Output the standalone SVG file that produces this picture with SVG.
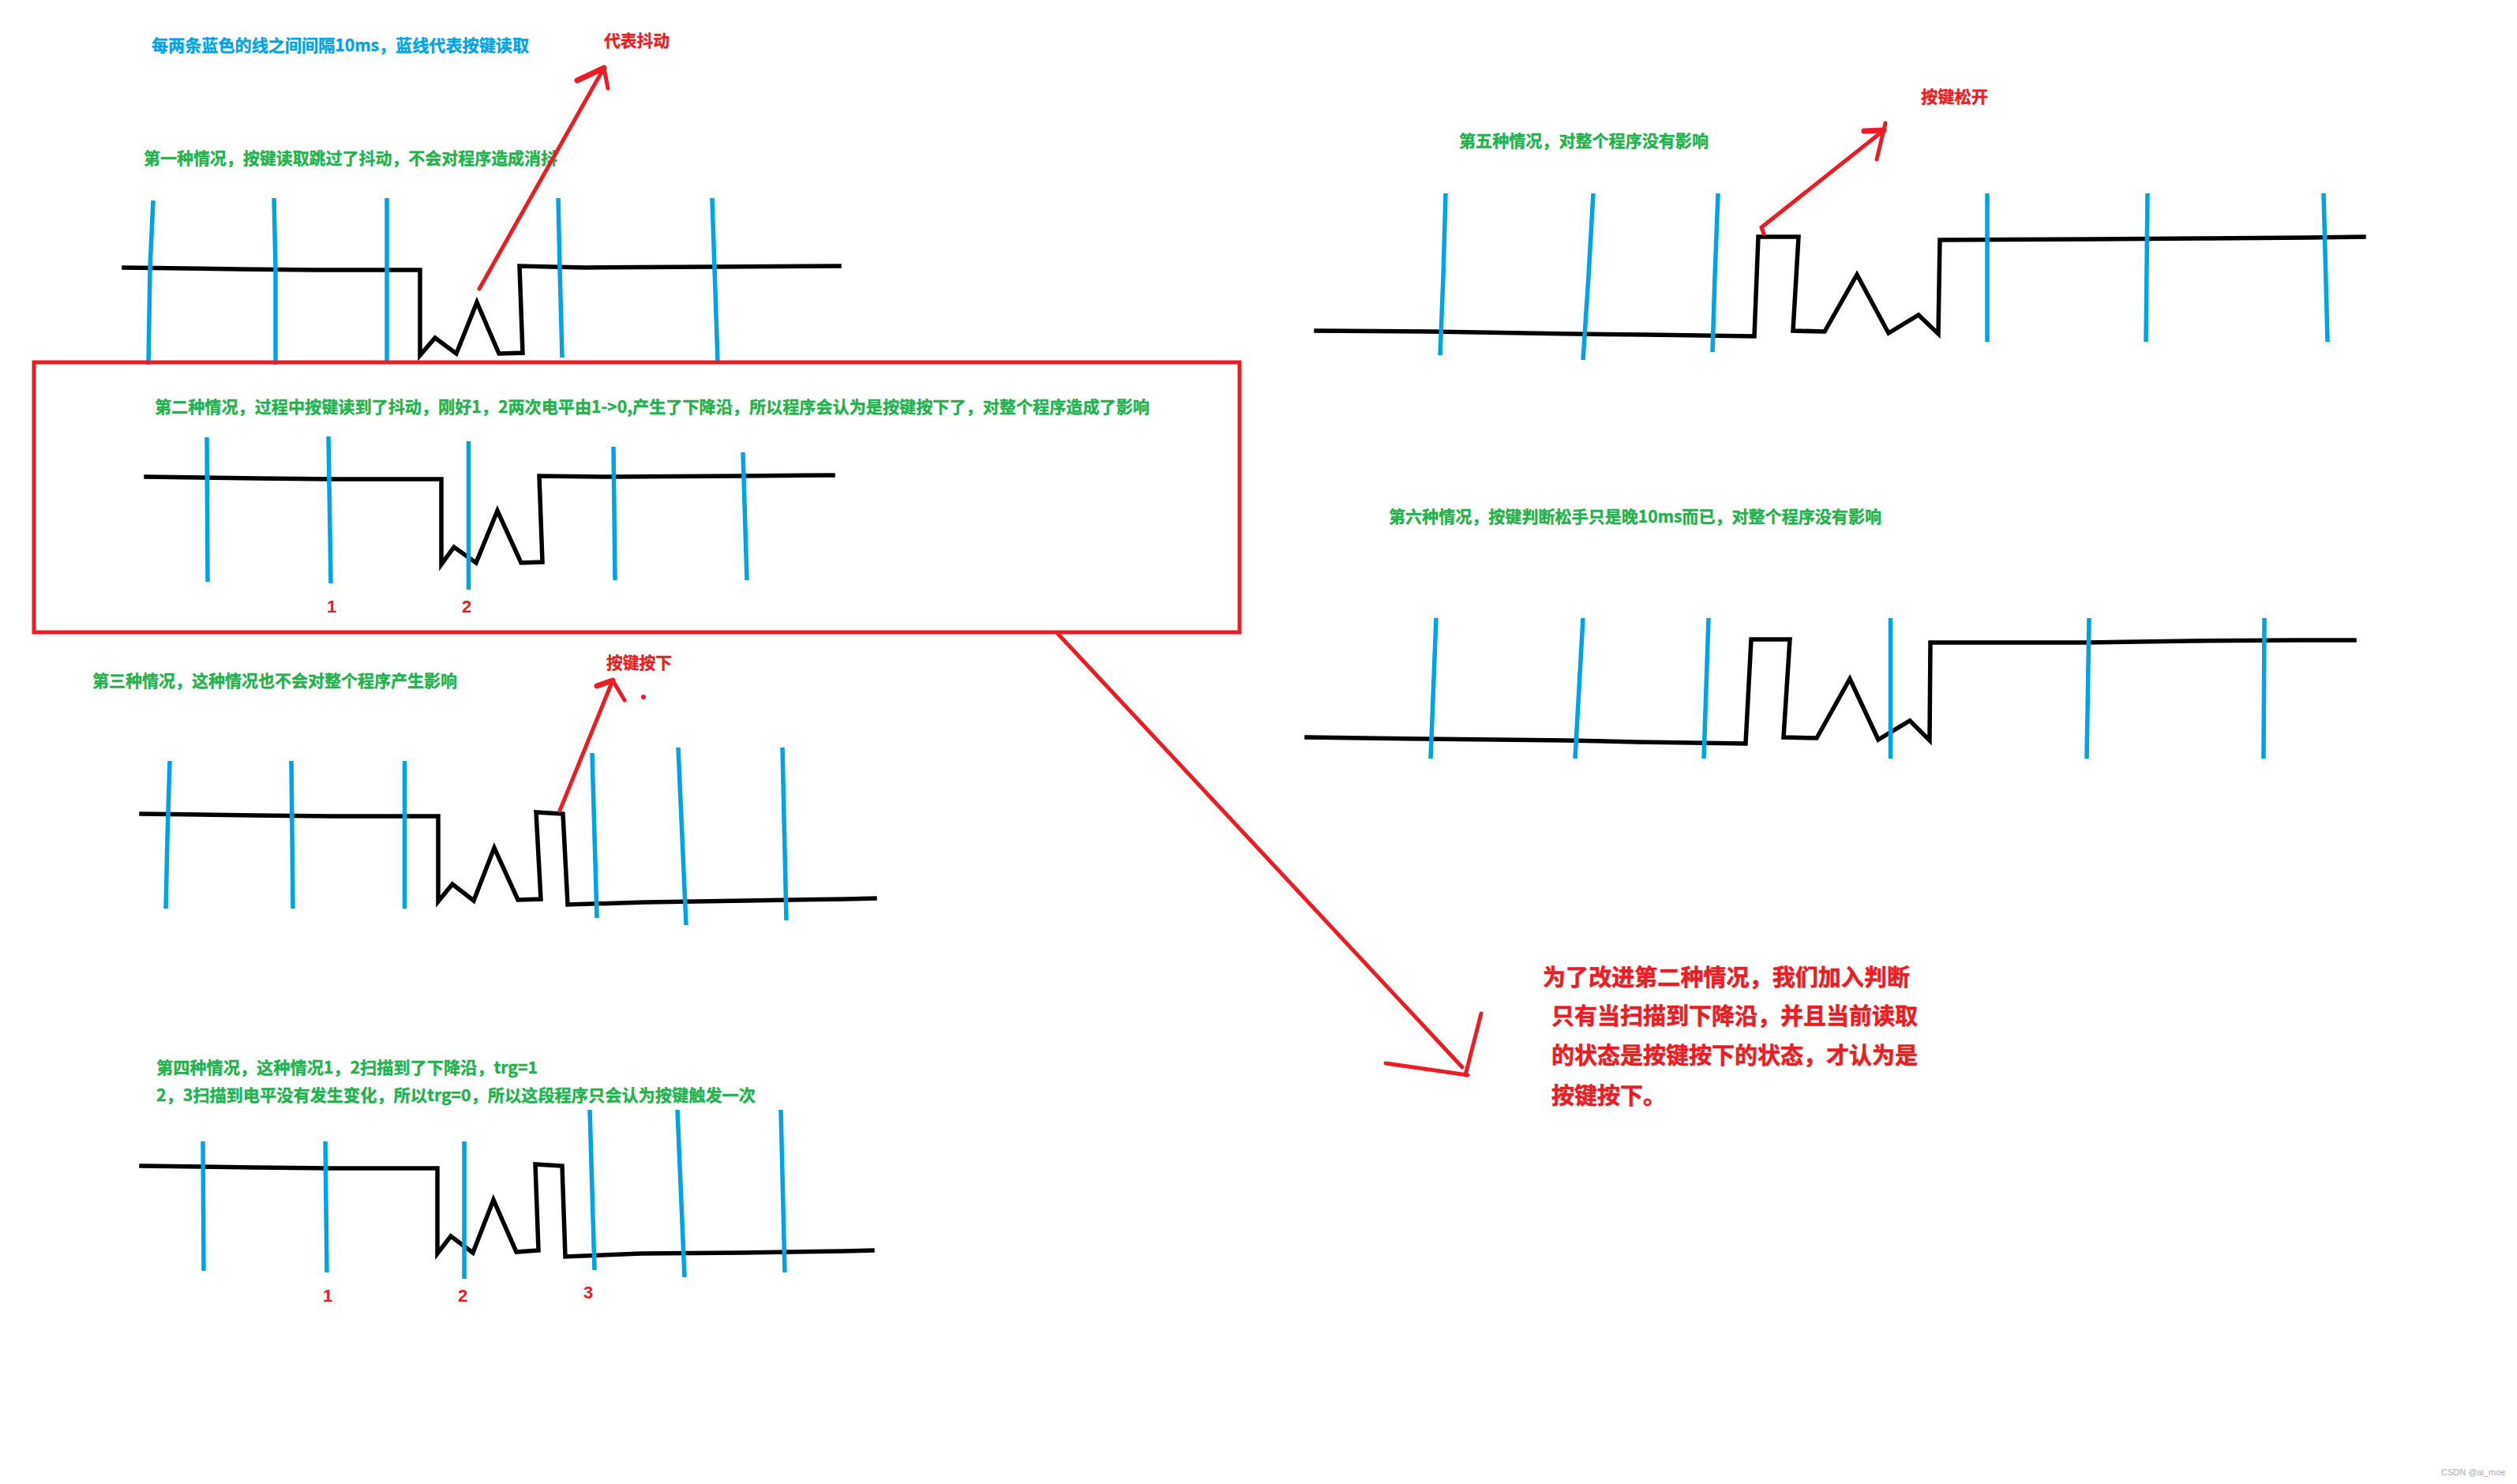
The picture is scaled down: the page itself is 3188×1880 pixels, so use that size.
<svg xmlns="http://www.w3.org/2000/svg" width="3188" height="1880" viewBox="0 0 3188 1880">
<style>
text{font-family:"Noto Sans CJK SC","Liberation Sans",sans-serif;font-weight:700}
.sig{fill:none;stroke:#000;stroke-width:5.5;stroke-linejoin:miter;stroke-linecap:square}
.scan{fill:none;stroke:#00A2E8;stroke-width:5.5}
.arr{fill:none;stroke:#ED1C24;stroke-width:5;stroke-linecap:round;stroke-linejoin:round}
.thick{stroke-width:7}
.g{fill:#22B14C;stroke:#22B14C;stroke-width:.4;font-size:21px}
.b{fill:#00A2E8;stroke:#00A2E8;stroke-width:.4;font-size:21px}
.r{fill:#ED1C24;stroke:#ED1C24;stroke-width:.4;font-size:21px}
.n{fill:#ED1C24;font-size:22px;text-anchor:middle;font-family:"Liberation Sans",sans-serif}
.big{fill:#ED1C24;stroke:#ED1C24;stroke-width:.6;font-size:29px}
.wm{fill:#aaa;font-size:11px;font-weight:400;font-family:"Liberation Sans",sans-serif}
</style>
<rect width="3188" height="1880" fill="#fff"/>

<g id="legend">
<text class="b" x="192" y="64.5" textLength="478" lengthAdjust="spacingAndGlyphs">每两条蓝色的线之间间隔10ms，蓝线代表按键读取</text>
</g>

<g id="case1">
<text class="g" x="182" y="207.5" textLength="524" lengthAdjust="spacingAndGlyphs">第一种情况，按键读取跳过了抖动，不会对程序造成消抖</text>
<polyline class="sig" points="157,339 304,341 400,342 532,342 532,450 551,428 578,448 604,383 632,448 662,447 658,337 741,339 902,338 1063,337"/>
<polyline class="scan" points="194,254 190,340 188,462"/>
<polyline class="scan" points="347,251 349,340 349,462"/>
<line class="scan" x1="490" y1="251" x2="490" y2="459"/>
<polyline class="scan" points="707,251 709,340 712,453"/>
<polyline class="scan" points="902,251 905,340 909,459"/>
</g>

<g id="case2">
<text class="g" x="196" y="522.5" textLength="1260" lengthAdjust="spacingAndGlyphs">第二种情况，过程中按键读到了抖动，刚好1，2两次电平由1-&gt;0,产生了下降沿，所以程序会认为是按键按下了，对整个程序造成了影响</text>
<polyline class="sig" points="185,604 326,606 425,607 559,607 559,715 575,693 603,713 630,647 660,713 687,712 683,603 771,604 934,603 1055,602"/>
<polyline class="scan" points="262,554 263,737"/>
<polyline class="scan" points="416,553 419,739"/>
<line class="scan" x1="593.5" y1="559" x2="593.5" y2="747"/>
<polyline class="scan" points="777,566 779,735"/>
<polyline class="scan" points="941,573 946,735"/>
<text class="n" x="420" y="776">1</text>
<text class="n" x="591" y="776">2</text>
</g>

<g id="case3">
<text class="g" x="117" y="869.5" textLength="462" lengthAdjust="spacingAndGlyphs">第三种情况，这种情况也不会对整个程序产生影响</text>
<polyline class="sig" points="179,1031 324,1033 421,1034 555,1034 555,1142 573,1120 600,1141 626,1074 656,1140 685,1139 679,1029 713,1031 719,1146 817,1143 944,1141 1071,1139 1108,1138"/>
<polyline class="scan" points="215,964 212,1060 210,1151"/>
<polyline class="scan" points="369,964 371,1151"/>
<line class="scan" x1="512.5" y1="964" x2="512.5" y2="1151"/>
<polyline class="scan" points="750,954 756,1163"/>
<polyline class="scan" points="859,947 869,1172"/>
<polyline class="scan" points="991,947 996,1166"/>
</g>

<g id="case4">
<text class="g" x="198" y="1359.5" textLength="483" lengthAdjust="spacingAndGlyphs">第四种情况，这种情况1，2扫描到了下降沿，trg=1</text>
<text class="g" x="198" y="1394.5" textLength="759" lengthAdjust="spacingAndGlyphs">2，3扫描到电平没有发生变化，所以trg=0，所以这段程序只会认为按键触发一次</text>
<polyline class="sig" points="179,1477 322,1479 418,1480 554,1480 554,1588 571,1566 599,1587 625,1520 654,1586 682,1584 678,1475 712,1477 716,1592 813,1588 941,1587 1068,1585 1105,1584"/>
<polyline class="scan" points="257,1446 258,1610"/>
<polyline class="scan" points="412,1446 414,1612"/>
<line class="scan" x1="588" y1="1446" x2="588" y2="1620"/>
<polyline class="scan" points="747,1406 753,1609"/>
<polyline class="scan" points="858,1406 867,1618"/>
<polyline class="scan" points="989,1406 994,1612"/>
<text class="n" x="415" y="1649">1</text>
<text class="n" x="586" y="1649">2</text>
<text class="n" x="745" y="1645">3</text>
</g>

<g id="case5">
<text class="g" x="1848" y="185.5" textLength="316" lengthAdjust="spacingAndGlyphs">第五种情况，对整个程序没有影响</text>
<polyline class="sig" points="1667,419 1810,420 1993,423 2086,424 2222,426 2227,300 2278,300 2271,419 2311,420 2352,348 2392,422 2430,399 2455,423 2457,304 2649,303 2785,302 2923,301 2994,300"/>
<polyline class="scan" points="1831,245 1828,350 1824,450"/>
<polyline class="scan" points="2018,245 2012,350 2005,456"/>
<polyline class="scan" points="2176,245 2172,350 2169,446"/>
<line class="scan" x1="2517" y1="245" x2="2517" y2="433"/>
<polyline class="scan" points="2720,245 2718,433"/>
<polyline class="scan" points="2943,245 2948,433"/>
</g>

<g id="case6">
<text class="g" x="1759" y="661.5" textLength="624" lengthAdjust="spacingAndGlyphs">第六种情况，按键判断松手只是晚10ms而已，对整个程序没有影响</text>
<polyline class="sig" points="1655,934 1801,936 1984,938 2073,940 2211,942 2218,810 2267,810 2259,934 2301,935 2343,860 2379,937 2419,913 2444,938 2445,814 2640,814 2774,812 2908,811 2982,811"/>
<polyline class="scan" points="1819,783 1812,961"/>
<polyline class="scan" points="2005,783 1995,961"/>
<polyline class="scan" points="2164,783 2158,961"/>
<line class="scan" x1="2394.5" y1="783" x2="2394.5" y2="961"/>
<polyline class="scan" points="2646,783 2643,961"/>
<polyline class="scan" points="2868,783 2867,961"/>
</g>

<g id="highlight">
<rect x="43" y="459" width="1527" height="342" fill="none" stroke="#ED1C24" stroke-width="5"/>
</g>

<g id="connectors">
<path class="arr" d="M607,366 L765,86 L770,112"/>
<path class="arr thick" d="M731,102 L765,86"/>
<path class="arr" d="M709,1027 L776,862 L791,887"/>
<path class="arr thick" d="M756,869 L776,862"/>
<circle cx="815" cy="883" r="3" fill="#ED1C24"/>
<path class="arr" d="M2234,296 L2231,288 L2386,165 M2388,156 L2377,202"/>
<path class="arr thick" d="M2361,166 L2386,165"/>
<path class="arr" d="M1340,803 L1852,1352 M1876,1284 L1856,1362 M1755,1347 L1859,1362"/>
</g>

<g id="labels">
<text class="r" x="765" y="58.5" textLength="83" lengthAdjust="spacingAndGlyphs">代表抖动</text>
<text class="r" x="768" y="846.5" textLength="83" lengthAdjust="spacingAndGlyphs">按键按下</text>
<text class="r" x="2433" y="129.5" textLength="85" lengthAdjust="spacingAndGlyphs">按键松开</text>
</g>

<g id="note">
<text class="big" x="1954" y="1248.5" textLength="465">为了改进第二种情况，我们加入判断</text>
<text class="big" x="1965" y="1297.5" textLength="464">只有当扫描到下降沿，并且当前读取</text>
<text class="big" x="1965" y="1347.5" textLength="464">的状态是按键按下的状态，才认为是</text>
<text class="big" x="1965" y="1398.5">按键按下。</text>
</g>

<text class="wm" x="3092" y="1869">CSDN @ai_moe</text>
</svg>
